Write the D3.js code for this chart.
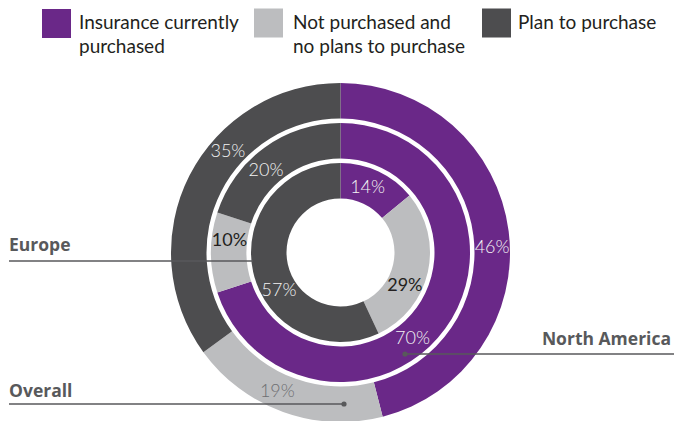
<!DOCTYPE html>
<html>
<head>
<meta charset="utf-8">
<script src="https://cdn.jsdelivr.net/npm/d3@7"></script>
<style>
  html, body { margin: 0; padding: 0; background: #fff; }
  svg { display: block; }
</style>
</head>
<body>
<svg id="chart" width="674" height="421"></svg>
<script>
// Survey answers, in percent, one array per region (order follows categories)
const categories = ["Insurance currently purchased", "Not purchased and no plans to purchase", "Plan to purchase"];
const legendLines = [["Insurance currently", "purchased"], ["Not purchased and", "no plans to purchase"], ["Plan to purchase"]];
const regions = ["Europe", "North America", "Overall"];
const europe = [14, 29, 57];
const northAmerica = [70, 10, 20];
const overall = [46, 19, 35];

const colors = ["#6a2888", "#bcbdbf", "#4d4d4f"];

// Ring geometry (inner ring = Europe, middle = North America, outer = Overall)
const cx = 340.5, cy = 252.5;
const rings = [
  { name: regions[0], values: europe,       r0: 54,  r1: 89.5,  labelPos: [0.44, 0.63, 0.41], labelInk: ["#f4f4f4", "#231f20", "#f4f4f4"] },
  { name: regions[1], values: northAmerica, r0: 94,  r1: 129.5, labelPos: [0.555, 0.68, 0.42], labelInk: ["#f4f4f4", "#231f20", "#f4f4f4"] },
  { name: regions[2], values: overall,      r0: 134, r1: 169.5, labelPos: [0.53, 0.57, 0.62], labelInk: ["#f4f4f4", "#6d6e71", "#f4f4f4"] }
];

const svg = d3.select("#chart");
const g = svg.append("g").attr("transform", `translate(${cx},${cy})`);

const pie = d3.pie().sort(null).value(d => d);

rings.forEach(ring => {
  const arc = d3.arc().innerRadius(ring.r0).outerRadius(ring.r1);
  const slices = pie(ring.values);
  g.append("g").selectAll("path")
    .data(slices)
    .join("path")
    .attr("d", arc)
    .attr("fill", (d, i) => colors[i]);
});

// Leader lines and region names
const ink = "#58595b";
const leaders = svg.append("g");
function leader(x0, y, x1, dot) {
  leaders.append("line")
    .attr("x1", x0).attr("x2", x1).attr("y1", y).attr("y2", y)
    .attr("stroke", ink).attr("stroke-width", 1.3);
  if (dot) {
    leaders.append("circle").attr("cx", dot[0]).attr("cy", dot[1]).attr("r", 2.6).attr("fill", ink);
  }
}
leader(9, 261, 253, null);
leader(405, 354, 674, [405, 354]);
leader(9, 404, 344, [344, 404]);

const nameStyle = sel => sel
  .attr("font-family", "'Open Sans', sans-serif")
  .attr("font-weight", 700)
  .attr("font-size", 17.5)
  .attr("fill", ink);
svg.append("text").attr("x", 9).attr("y", 251).text(regions[0]).call(nameStyle);
svg.append("text").attr("x", 671).attr("y", 345).attr("text-anchor", "end").text(regions[1]).call(nameStyle);
svg.append("text").attr("x", 9).attr("y", 397).text(regions[2]).call(nameStyle);

// Percentage labels on each slice
rings.forEach(ring => {
  const rMid = (ring.r0 + ring.r1) / 2;
  const slices = pie(ring.values);
  g.append("g").selectAll("text")
    .data(slices)
    .join("text")
    .attr("transform", (d, i) => {
      const a = d.startAngle + (d.endAngle - d.startAngle) * ring.labelPos[i];
      return `translate(${Math.sin(a) * rMid},${-Math.cos(a) * rMid})`;
    })
    .attr("text-anchor", "middle")
    .attr("dy", "0.36em")
    .attr("font-family", "Lato, sans-serif")
    .attr("font-weight", (d, i) => ring.labelInk[i] === "#231f20" ? 400 : 300)
    .attr("font-size", 18)
    .attr("fill", (d, i) => ring.labelInk[i])
    .text(d => d.data + "%");
});

// Legend
const legendX = [42, 254, 482];
const legendTextX = [79, 293, 518];
const legendY = [9, 8.5, 8.5];
const legend = svg.append("g");
categories.forEach((c, i) => {
  legend.append("rect")
    .attr("x", legendX[i]).attr("y", legendY[i])
    .attr("width", 29).attr("height", 29)
    .attr("fill", colors[i]);
  const t = legend.append("text")
    .attr("font-family", "Lato, sans-serif")
    .attr("font-size", 19)
    .attr("fill", "#231f20");
  legendLines[i].forEach((line, j) => {
    t.append("tspan").attr("x", legendTextX[i]).attr("y", 28.5 + j * 24.5).text(line);
  });
});
</script>
</body>
</html>
